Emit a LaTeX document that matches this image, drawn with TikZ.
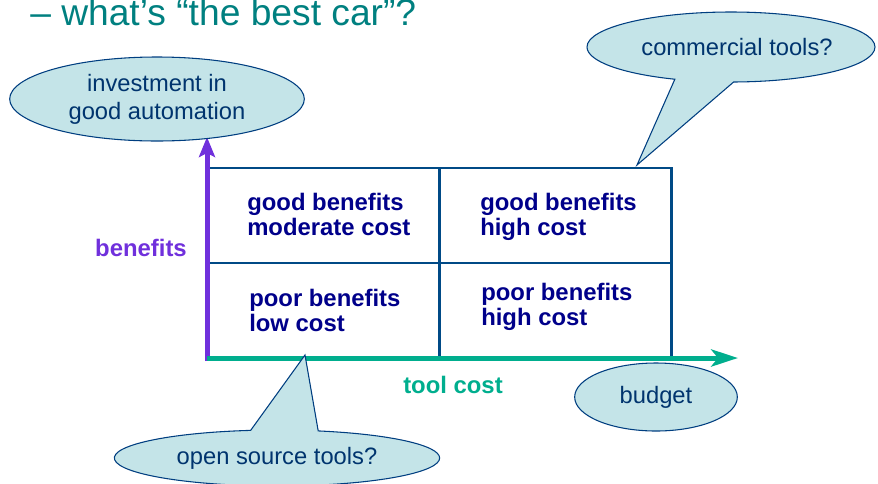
\documentclass[tikz,border=0pt]{standalone}
\usepackage{fontspec}
\setmainfont{Liberation Sans}
\usepackage{tikz}
\usetikzlibrary{arrows.meta, shapes, positioning}
\definecolor{titleteal}{RGB}{0,128,128}
\definecolor{bubblefill}{RGB}{196,228,232}
\definecolor{bubbleline}{RGB}{0,62,128}
\definecolor{bubbletext}{RGB}{0,52,110}
\definecolor{gridblue}{RGB}{0,74,134}
\definecolor{cellnavy}{RGB}{0,0,138}
\definecolor{axispurple}{RGB}{112,48,220}
\definecolor{axisteal}{RGB}{0,174,142}
\newcommand{\bubblefont}{\fontsize{17.8}{21}\selectfont}
\newcommand{\cellfont}{\bfseries\fontsize{17.9}{18.75}\selectfont}
\tikzstyle{bubble} = [ellipse, draw=bubbleline, fill=bubblefill, text=bubbletext, line width=0.8pt,
                      inner sep=0, font=\bubblefont, align=center]
\tikzstyle{speech} = [ellipse callout, callout pointer arc=24, draw=bubbleline, fill=bubblefill,
                      text=bubbletext, line width=0.8pt, inner sep=0, font=\bubblefont]
\tikzstyle{cell} = [rectangle, draw=gridblue, line width=2pt, minimum width=174pt, minimum height=71.25pt]
\tikzstyle{celltext} = [anchor=west, inner sep=0, text=cellnavy, font=\cellfont, align=left]
\tikzstyle{axis} = [line width=3.75pt]

\begin{document}
\begin{tikzpicture}[x=0.75pt, y=-0.75pt]
				\useasboundingbox (0, 0) rectangle (878, 483);

				\node (Title) [anchor=base west, inner sep=0, text=titleteal, font=\fontsize{27.9}{30}\selectfont]
					at (30, 25) {– what’s “the best car”?};

				% the four quadrants
				\node (GoodModerate) [cell] at (323.5, 215.5) {};
				\node (GoodHigh) [cell] at (555.5, 215.5) {};
				\node (PoorLow) [cell] at (323.5, 310.5) {};
				\node (PoorHigh) [cell] at (555.5, 310.5) {};

				\node (GoodModerateText) [celltext] at (247, 214) {good benefits\\moderate cost};
				\node (GoodHighText) [celltext] at (480, 216.5) {good benefits\\high cost};
				\node (PoorLowText) [celltext] at (249, 310) {poor benefits\\low cost};
				\node (PoorHighText) [celltext] at (481, 306.5) {poor benefits\\high cost};

				% axes
				\coordinate (Origin) at (207, 358);
				\coordinate (AxisBottom) at (207, 361);
				\coordinate (BenefitsTip) at (207, 137);
				\coordinate (CostTip) at (738, 358);
				\draw [axis, axispurple, -{Stealth[length=15pt, width=12pt, inset=3pt]}] (AxisBottom) -- (BenefitsTip);
				\draw [axis, axisteal, -{Stealth[length=20pt, width=12.75pt, inset=5pt]}] (Origin) -- (CostTip);

				\node (Benefits) [text=axispurple, font=\cellfont] at (141, 248) {benefits};
				\node (ToolCost) [text=axisteal, font=\cellfont] at (453, 385) {tool cost};

				% bubbles
				\node (Investment) [bubble, minimum width=221pt, minimum height=63pt] at (157, 99)
					{investment in\\good automation};
				\node (Budget) [bubble, minimum width=122pt, minimum height=51pt] at (656, 397) {budget};

				\coordinate (CommercialTip) at (637, 165);
				\node (Commercial) [speech, callout absolute pointer={(CommercialTip)}, minimum width=216pt,
					minimum height=52.5pt] at (731, 47) {\hspace{9pt}commercial tools?};

				\coordinate (OpenTip) at (305, 355);
				\node (OpenSource) [speech, callout absolute pointer={(OpenTip)}, minimum width=244pt,
					minimum height=42pt] at (277, 458) {open source tools?};
			\end{tikzpicture}
\end{document}
